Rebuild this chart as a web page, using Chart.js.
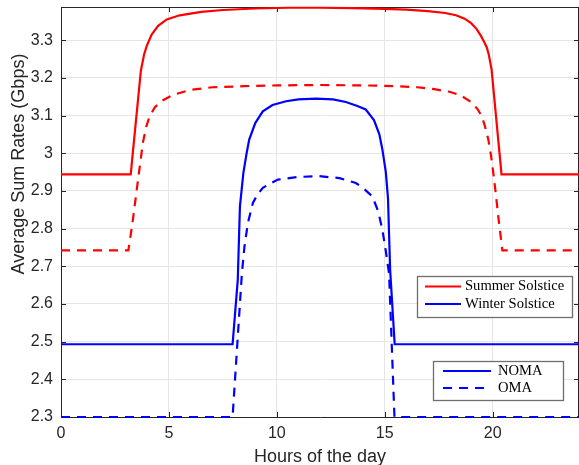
<!DOCTYPE html>
<html>
<head>
<meta charset="utf-8">
<title>Average Sum Rates</title>
<script src="https://cdn.jsdelivr.net/npm/chart.js@4.4.1/dist/chart.umd.min.js"></script>
<style>
    html, body { margin: 0; padding: 0; background: #ffffff; }
    canvas { display: block; }
</style>
</head>
<body>
<canvas id="ratesChart" width="579" height="465"></canvas>
<script>
// Legend labels
const seasonLabels = ['Summer Solstice', 'Winter Solstice'];
const schemeLabels = ['NOMA', 'OMA'];

// Tick values
const hourTicks = [0, 5, 10, 15, 20];
const rateTicks = [2.3, 2.4, 2.5, 2.6, 2.7, 2.8, 2.9, 3, 3.1, 3.2, 3.3];

// Summer solstice, NOMA
const summerNomaHours = [0, 3.23, 3.7, 3.85, 3.97, 4.2, 4.5, 4.9, 5.5, 6.5, 7.5, 9, 10.5, 12, 13.5, 15, 16, 17, 17.8, 18.3, 18.7, 19.0, 19.25, 19.45, 19.6, 19.72, 19.82, 19.95, 20.41, 24];
const summerNomaRates = [2.944, 2.944, 3.219, 3.262, 3.284, 3.315, 3.338, 3.355, 3.366, 3.375, 3.380, 3.384, 3.386, 3.386, 3.385, 3.383, 3.381, 3.377, 3.372, 3.366, 3.357, 3.345, 3.330, 3.312, 3.296, 3.282, 3.262, 3.222, 2.944, 2.944];

// Summer solstice, OMA
const summerOmaHours = [0, 3.12, 3.3, 3.57, 3.8, 3.95, 4.1, 4.35, 4.7, 5.2, 6.0, 7.0, 8.5, 10, 12, 14, 15.5, 16.5, 17.3, 18.0, 18.5, 19.0, 19.3, 19.5, 19.65, 19.8, 19.92, 20.03, 20.15, 20.26, 20.45, 24];
const summerOmaRates = [2.742, 2.742, 2.81, 2.93, 3.03, 3.07, 3.097, 3.122, 3.14, 3.155, 3.168, 3.175, 3.178, 3.18, 3.181, 3.18, 3.178, 3.175, 3.17, 3.163, 3.154, 3.136, 3.117, 3.098, 3.07, 3.036, 2.995, 2.948, 2.89, 2.832, 2.742, 2.742];

// Winter solstice, NOMA
const winterNomaHours = [0, 7.95, 8.19, 8.29, 8.45, 8.6, 8.72, 9.0, 9.35, 9.8, 10.43, 11.0, 11.8, 12.6, 13.2, 13.7, 14.12, 14.5, 14.75, 14.89, 15.05, 15.15, 15.25, 15.46, 24];
const winterNomaRates = [2.493, 2.493, 2.664, 2.859, 2.948, 3.0, 3.036, 3.08, 3.111, 3.128, 3.138, 3.143, 3.145, 3.143, 3.136, 3.126, 3.116, 3.088, 3.05, 3.01, 2.95, 2.88, 2.69, 2.493, 2.493];

// Winter solstice, OMA
const winterOmaHours = [0, 7.95, 8.38, 8.5, 8.66, 8.89, 9.1, 9.35, 9.7, 10.05, 11.0, 11.97, 12.9, 13.66, 14.05, 14.43, 14.7, 14.89, 15.05, 15.2, 15.45, 24];
const winterOmaRates = [2.3, 2.3, 2.68, 2.752, 2.815, 2.868, 2.89, 2.908, 2.92, 2.93, 2.937, 2.939, 2.934, 2.921, 2.905, 2.885, 2.845, 2.797, 2.74, 2.68, 2.3, 2.3];

const RED = '#ff0000';
const BLUE = '#0000ff';
const AXIS_COLOR = '#262626';
const DASH = [9, 7];

// Pairs hours and rates into {x, y} points
const toPoints = (hours, rates) => hours.map((h, i) => ({ x: h, y: rates[i] }));

const makeDataset = (label, hours, rates, color, dashed) => ({
    label: label,
    data: toPoints(hours, rates),
    borderColor: color,
    borderWidth: 2.2,
    borderDash: dashed ? DASH : [],
    pointRadius: 0,
    tension: 0,
    fill: false,
    clip: 6
});

// Box on top/right plus the inner tick marks
const axesBox = {
    id: 'axesBox',
    beforeDatasetsDraw(chart) {
        const { ctx, chartArea: a, scales } = chart;
        ctx.save();
        ctx.strokeStyle = AXIS_COLOR;
        ctx.lineWidth = 1;
        ctx.beginPath();
        ctx.moveTo(a.left, a.top + 0.5);
        ctx.lineTo(a.right, a.top + 0.5);
        ctx.moveTo(a.right - 0.5, a.top);
        ctx.lineTo(a.right - 0.5, a.bottom);
        hourTicks.forEach(h => {
            const x = Math.round(scales.x.getPixelForValue(h)) + 0.5;
            ctx.moveTo(x, a.bottom);
            ctx.lineTo(x, a.bottom - 5);
            ctx.moveTo(x, a.top);
            ctx.lineTo(x, a.top + 5);
        });
        rateTicks.forEach(v => {
            const y = Math.round(scales.y.getPixelForValue(v)) + 0.5;
            ctx.moveTo(a.left, y);
            ctx.lineTo(a.left + 5, y);
            ctx.moveTo(a.right, y);
            ctx.lineTo(a.right - 5, y);
        });
        ctx.stroke();
        ctx.restore();
    }
};

// Axis titles and the two legend boxes
const drawLegendBox = (ctx, left, top, width, height, rows, lineLen) => {
    ctx.fillStyle = '#ffffff';
    ctx.fillRect(left, top, width, height);
    ctx.strokeStyle = '#6e6e6e';
    ctx.lineWidth = 1.3;
    ctx.strokeRect(left + 0.5, top + 0.5, width, height);
    ctx.font = '14.6px "Liberation Serif", "Times New Roman", serif';
    ctx.textBaseline = 'middle';
    ctx.textAlign = 'left';
    rows.forEach(row => {
        ctx.beginPath();
        ctx.strokeStyle = row.color;
        ctx.lineWidth = 2.2;
        ctx.setLineDash(row.dashed ? DASH : []);
        ctx.moveTo(left + row.lineStart, top + row.y);
        ctx.lineTo(left + row.lineStart + lineLen, top + row.y);
        ctx.stroke();
        ctx.setLineDash([]);
        ctx.fillStyle = '#000000';
        ctx.fillText(row.label, left + row.textStart, top + row.y);
    });
};

const annotations = {
    id: 'annotations',
    afterDraw(chart) {
        const { ctx, chartArea: a } = chart;
        ctx.save();
        ctx.fillStyle = AXIS_COLOR;
        ctx.font = '18px "Liberation Sans", Arial, sans-serif';
        ctx.textAlign = 'center';
        ctx.textBaseline = 'alphabetic';
        ctx.fillText('Hours of the day', (a.left + a.right) / 2, 462);

        ctx.translate(24, 164);
        ctx.rotate(-Math.PI / 2);
        ctx.fillText('Average Sum Rates (Gbps)', 0, 0);
        ctx.restore();

        ctx.save();
        drawLegendBox(ctx, a.left + 356, 276, 155, 41, [
            { label: seasonLabels[0], color: RED, dashed: false, y: 10.5, lineStart: 8, textStart: 48 },
            { label: seasonLabels[1], color: BLUE, dashed: false, y: 28, lineStart: 8, textStart: 48 }
        ], 36);
        drawLegendBox(ctx, a.left + 372, 361, 130, 39, [
            { label: schemeLabels[0], color: BLUE, dashed: false, y: 10, lineStart: 10, textStart: 65 },
            { label: schemeLabels[1], color: BLUE, dashed: true, y: 27, lineStart: 10, textStart: 65 }
        ], 48);
        ctx.restore();
    }
};

const ctx = document.getElementById('ratesChart').getContext('2d');
new Chart(ctx, {
    type: 'line',
    data: {
        datasets: [
            makeDataset(seasonLabels[0] + ' ' + schemeLabels[0], summerNomaHours, summerNomaRates, RED, false),
            makeDataset(seasonLabels[0] + ' ' + schemeLabels[1], summerOmaHours, summerOmaRates, RED, true),
            makeDataset(seasonLabels[1] + ' ' + schemeLabels[0], winterNomaHours, winterNomaRates, BLUE, false),
            makeDataset(seasonLabels[1] + ' ' + schemeLabels[1], winterOmaHours, winterOmaRates, BLUE, true)
        ]
    },
    options: {
        responsive: false,
        animation: false,
        devicePixelRatio: 1,
        layout: { padding: { top: 7, right: 0, left: 0, bottom: 0 } },
        plugins: {
            legend: { display: false },
            tooltip: { enabled: false }
        },
        scales: {
            x: {
                type: 'linear',
                min: 0,
                max: 24,
                afterBuildTicks: scale => { scale.ticks = hourTicks.map(v => ({ value: v })); },
                afterFit: scale => {
                    scale.height = 48;
                    scale.paddingLeft = 0;
                    scale.paddingRight = 0;
                },
                ticks: {
                    color: AXIS_COLOR,
                    font: { family: '"Liberation Sans", Arial, sans-serif', size: 16 },
                    padding: 7,
                    maxRotation: 0,
                    callback: v => String(v)
                },
                grid: { color: '#e6e6e6', lineWidth: 1, drawTicks: false },
                border: { color: AXIS_COLOR, width: 1 }
            },
            y: {
                min: 2.3,
                max: 3.388,
                afterBuildTicks: scale => { scale.ticks = rateTicks.map(v => ({ value: v })); },
                afterFit: scale => {
                    scale.width = 61;
                    scale.paddingTop = 0;
                    scale.paddingBottom = 0;
                },
                ticks: {
                    color: AXIS_COLOR,
                    font: { family: '"Liberation Sans", Arial, sans-serif', size: 16 },
                    padding: 8,
                    callback: v => String(v)
                },
                grid: { color: '#e6e6e6', lineWidth: 1, drawTicks: false },
                border: { color: AXIS_COLOR, width: 1 }
            }
        }
    },
    plugins: [axesBox, annotations]
});
</script>
</body>
</html>
